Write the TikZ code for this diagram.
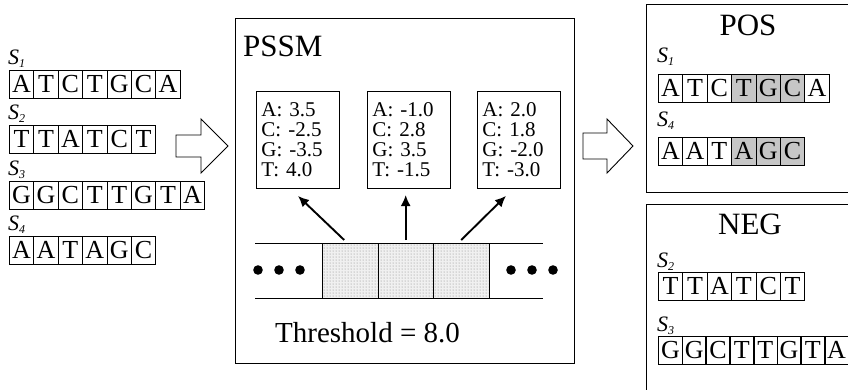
\documentclass[tikz,border=0pt]{standalone}
\usepackage{fontspec}
\setmainfont{Liberation Serif}
\usetikzlibrary{arrows.meta,patterns}

\newcommand{\seqname}[1]{\textit{S}\raisebox{-0.3ex}{\fontsize{12}{12}\selectfont\textit{#1}}}

\begin{document}
\begin{tikzpicture}[x=1pt, y=-1pt]
    % Node styles
    \tikzstyle{base} = [rectangle, draw, line width=0.8pt, minimum width=24.4pt, minimum height=28pt, inner sep=0pt, anchor=north west, font=\fontsize{26}{26}\selectfont]
    \tikzstyle{hit} = [base, fill=gray!45]
    \tikzstyle{seqlabel} = [anchor=west, inner sep=0pt, font=\fontsize{22}{22}\selectfont]
    \tikzstyle{title} = [inner sep=0pt, font=\fontsize{31}{31}\selectfont]
    \tikzstyle{frame} = [rectangle, draw, line width=0.9pt, anchor=north west, inner sep=0pt]
    \tikzstyle{matrixbox} = [rectangle, draw, line width=0.9pt, anchor=north west, minimum height=97pt, text width=73pt, inner xsep=5pt, inner ysep=0pt, align=left, font=\fontsize{21}{20}\selectfont]
    \tikzstyle{window} = [rectangle, draw, line width=0.9pt, preaction={fill=gray!12}, pattern=dots, pattern color=gray, minimum width=55.5pt, minimum height=55pt, anchor=north west, inner sep=0pt]
    \tikzstyle{arrow} = [-{Latex[length=11pt,width=10pt]}, line width=1.9pt]
    \tikzstyle{blockarrow} = [draw, line width=0.9pt, line join=miter]

    \useasboundingbox (0,0) rectangle (848,389);

    % Input sequences
    \node[seqlabel] (l1) at (8, 59) {\seqname{1}};
    \foreach \c [count=\i] in {A,T,C,T,G,C,A}
        \node[base] (a1_\i) at ({9+24.4*(\i-1)}, 70) {\c};
    \node[seqlabel] (l2) at (8, 114) {\seqname{2}};
    \foreach \c [count=\i] in {T,T,A,T,C,T}
        \node[base] (a2_\i) at ({9+24.4*(\i-1)}, 125) {\c};
    \node[seqlabel] (l3) at (8, 170) {\seqname{3}};
    \foreach \c [count=\i] in {G,G,C,T,T,G,T,A}
        \node[base] (a3_\i) at ({9+24.4*(\i-1)}, 181) {\c};
    \node[seqlabel] (l4) at (8, 225) {\seqname{4}};
    \foreach \c [count=\i] in {A,A,T,A,G,C}
        \node[base] (a4_\i) at ({9+24.4*(\i-1)}, 236) {\c};

    % Big arrows
    \draw[blockarrow] (176,135) -- (201,135) -- (201,119) -- (228,146) -- (201,173) -- (201,157) -- (176,157) -- cycle;
    \draw[blockarrow] (583,133) -- (607,133) -- (607,119) -- (633,146) -- (607,173) -- (607,159) -- (583,159) -- cycle;

    % PSSM
    \node[frame, minimum width=339pt, minimum height=345pt] (pssm) at (235,18) {};
    \node[title, anchor=west] (pssm_t) at (243,46) {PSSM};
    \node[matrixbox] (m1) at (256,91) {A: 3.5\\C: -2.5\\G: -3.5\\T: 4.0};
    \node[matrixbox] (m2) at (367,91) {A: -1.0\\C: 2.8\\G: 3.5\\T: -1.5};
    \node[matrixbox] (m3) at (477,91) {A: 2.0\\C: 1.8\\G: -2.0\\T: -3.0};

    % Sliding window
    \draw[line width=0.9pt] (255,243) -- (543,243);
    \draw[line width=0.9pt] (255,298) -- (543,298);
    \node[window] (w1) at (322,243) {};
    \node[window] (w2) at (377.5,243) {};
    \node[window] (w3) at (433,243) {};
    \foreach \x in {258,279,300,511,532,553}
        \fill (\x,270) circle (4.8pt);
    \node[title, anchor=west, font=\fontsize{29}{29}\selectfont] (thr) at (275,333) {Threshold = 8.0};

    % Arrows
    \draw[arrow] ([xshift=-6pt,yshift=3pt]w1.north) -- ([yshift=-7pt]m1.south);
    \draw[arrow] ([yshift=3pt]w2.north) -- ++(0,-45);
    \draw[arrow] ([yshift=3pt]w3.north) -- ([xshift=-13pt,yshift=-7pt]m3.south);

    % POS
    \node[frame, minimum width=210pt, minimum height=188pt] (pos) at (646,4) {};
    \node[title] (pos_t) at (748,25) {POS};
    \node[seqlabel] (p1) at (657, 57) {\seqname{1}};
    \foreach \c/\s [count=\i] in {A/base,T/base,C/base,T/hit,G/hit,C/hit,A/base}
        \node[\s] (b1_\i) at ({658+24.4*(\i-1)}, 74) {\c};
    \node[seqlabel] (p4) at (657, 121) {\seqname{4}};
    \foreach \c/\s [count=\i] in {A/base,A/base,T/base,A/hit,G/hit,C/hit}
        \node[\s] (b4_\i) at ({658+24.4*(\i-1)}, 137) {\c};

    % NEG
    \node[frame, minimum width=210pt, minimum height=190pt] (neg) at (646,204) {};
    \node[title] (neg_t) at (750,224) {NEG};
    \node[seqlabel] (n2) at (657, 262) {\seqname{2}};
    \foreach \c [count=\i] in {T,T,A,T,C,T}
        \node[base] (c2_\i) at ({658+24.4*(\i-1)}, 272) {\c};
    \node[seqlabel] (n3) at (657, 326) {\seqname{3}};
    \foreach \c [count=\i] in {G,G,C,T,T,G,T,A}
        \node[base] (c3_\i) at ({658+23.7*(\i-1)}, 336) {\c};

\end{tikzpicture}
\end{document}
